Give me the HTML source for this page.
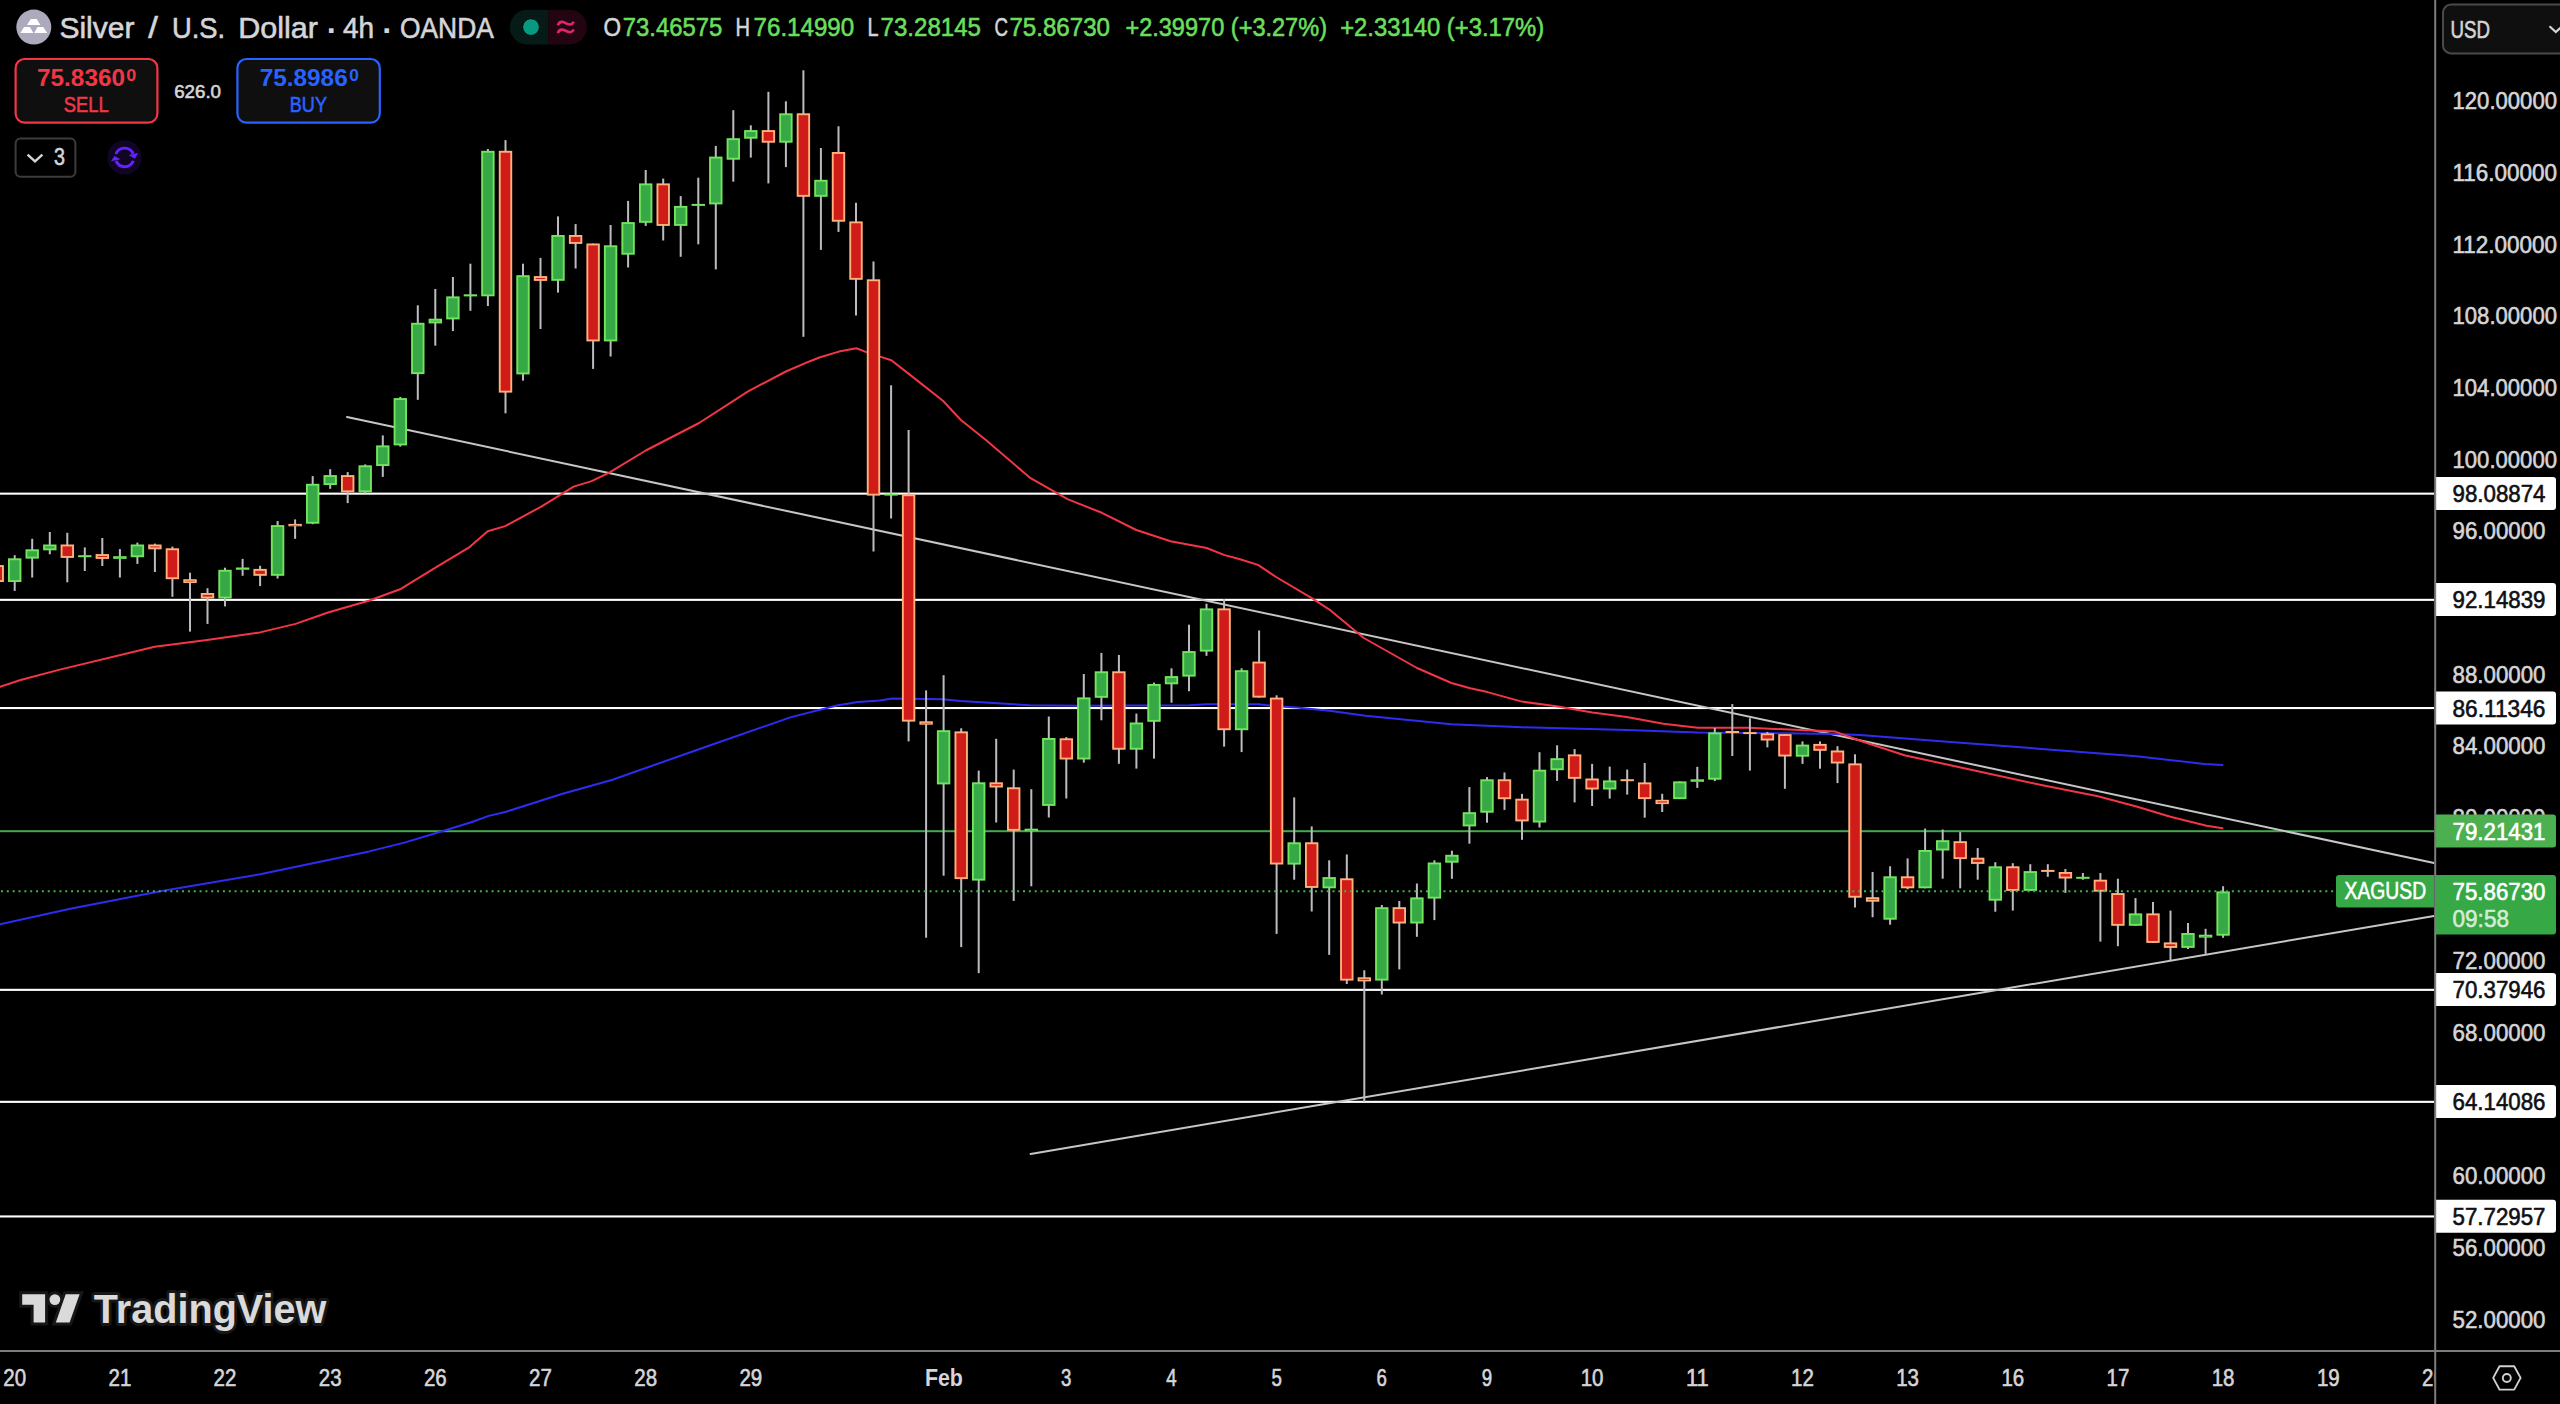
<!DOCTYPE html>
<html lang="en"><head><meta charset="utf-8"><title>Silver / U.S. Dollar chart</title>
<style>html,body{margin:0;padding:0;background:#000;}body{width:2560px;height:1404px;overflow:hidden;}svg{display:block;}text{font-family:"Liberation Sans", sans-serif;}</style></head><body>
<svg width="2560" height="1404" viewBox="0 0 2560 1404">
<rect width="2560" height="1404" fill="#000"/>
<defs><clipPath id="cc"><rect x="0" y="0" width="2434.2" height="1350"/></clipPath></defs>
<g clip-path="url(#cc)">
<rect x="0" y="492.6" width="2434.2" height="2.1" fill="#ffffff"/>
<rect x="0" y="598.8" width="2434.2" height="2.1" fill="#ffffff"/>
<rect x="0" y="707.0" width="2434.2" height="2.1" fill="#ffffff"/>
<rect x="0" y="988.8" width="2434.2" height="2.1" fill="#ffffff"/>
<rect x="0" y="1100.8" width="2434.2" height="2.1" fill="#ffffff"/>
<rect x="0" y="1215.4" width="2434.2" height="2.1" fill="#ffffff"/>
<rect x="0" y="830.2" width="2434.2" height="2" fill="#43a94c"/>
<line x1="347" y1="417" x2="2434" y2="863" stroke="#c6c6c6" stroke-width="2" stroke-linecap="round"/>
<line x1="1030.6" y1="1153.9" x2="2434" y2="916" stroke="#c6c6c6" stroke-width="2" stroke-linecap="round"/>
<polyline points="0.0,924.2 70.3,908.7 161.7,891.1 260.2,874.3 369.2,851.4 404.4,842.6 443.0,831.0 471.2,822.2 488.7,815.9 506.3,811.7 562.6,793.7 611.8,780.0 703.2,747.7 791.1,717.1 836.8,705.5 857.9,702.0 880.0,700.5 892.0,698.4 941.9,699.3 960.8,701.0 1029.5,705.3 1077.7,705.8 1189.4,705.3 1206.6,704.3 1258.1,704.3 1275.3,706.2 1296.7,707.6 1329.4,710.7 1365.5,715.8 1451.4,724.3 1521.9,727.3 1626.7,729.9 1697.8,732.4 1783.8,733.3 1835.3,734.1 1860.0,735.1 1950.6,741.9 2048.0,749.4 2136.4,756.2 2204.4,763.9 2222.5,765.0" fill="none" stroke="#2f2cf2" stroke-width="2" stroke-linejoin="round" stroke-linecap="round"/>
<polyline points="0.0,686.8 20.6,680.0 59.8,669.6 154.7,646.8 207.0,640.0 260.0,632.4 295.5,623.9 328.0,612.5 369.5,600.5 400.0,589.3 440.0,564.8 469.6,547.1 487.7,531.3 505.2,526.1 540.9,506.8 573.6,486.6 591.6,481.1 608.8,472.8 645.8,450.5 699.1,423.0 748.1,391.3 785.9,371.5 810.0,361.2 820.0,357.3 838.9,351.6 856.4,348.3 866.4,352.1 879.3,356.4 891.3,360.2 908.5,373.6 942.9,400.8 960.9,420.0 985.9,440.0 1029.7,477.6 1067.5,499.1 1101.9,512.8 1136.3,530.0 1170.6,541.2 1206.7,548.0 1223.9,554.9 1240.0,559.3 1258.0,564.9 1276.1,577.0 1312.2,598.4 1329.4,609.6 1363.8,638.0 1417.0,668.0 1451.4,683.0 1470.3,688.2 1487.5,692.1 1521.9,701.6 1558.0,706.4 1592.4,712.4 1626.7,717.0 1663.4,723.8 1697.8,727.8 1749.4,727.8 1835.3,731.6 1855.9,739.3 1860.0,740.8 1905.3,755.5 1973.3,770.2 2041.2,785.0 2097.9,796.3 2136.4,806.5 2170.4,816.7 2206.6,825.7 2222.5,828.2" fill="none" stroke="#f23645" stroke-width="2" stroke-linejoin="round" stroke-linecap="round"/>
<g fill="#bcbbc1"><rect x="-3.8" y="560.0" width="2" height="30.0"/><rect x="13.7" y="555.2" width="2" height="35.7"/><rect x="31.2" y="538.8" width="2" height="38.7"/><rect x="48.8" y="532.0" width="2" height="22.3"/><rect x="66.3" y="532.8" width="2" height="49.5"/><rect x="83.8" y="547.4" width="2" height="23.6"/><rect x="101.3" y="538.0" width="2" height="28.0"/><rect x="118.9" y="549.1" width="2" height="28.4"/><rect x="136.4" y="542.6" width="2" height="21.3"/><rect x="153.9" y="543.6" width="2" height="28.4"/><rect x="171.4" y="546.6" width="2" height="50.2"/><rect x="189.0" y="572.7" width="2" height="58.9"/><rect x="206.5" y="588.2" width="2" height="35.7"/><rect x="224.0" y="567.7" width="2" height="38.7"/><rect x="241.6" y="558.9" width="2" height="16.9"/><rect x="259.1" y="565.8" width="2" height="20.3"/><rect x="276.6" y="521.1" width="2" height="57.4"/><rect x="294.1" y="519.4" width="2" height="19.4"/><rect x="311.7" y="476.1" width="2" height="48.1"/><rect x="329.2" y="469.2" width="2" height="19.6"/><rect x="346.7" y="472.1" width="2" height="31.0"/><rect x="364.2" y="464.4" width="2" height="29.2"/><rect x="381.8" y="435.4" width="2" height="41.5"/><rect x="399.3" y="396.9" width="2" height="49.7"/><rect x="416.8" y="305.3" width="2" height="94.5"/><rect x="434.3" y="289.0" width="2" height="56.7"/><rect x="451.9" y="277.0" width="2" height="54.1"/><rect x="469.4" y="263.7" width="2" height="47.1"/><rect x="486.9" y="149.0" width="2" height="157.0"/><rect x="504.5" y="140.1" width="2" height="273.2"/><rect x="522.0" y="263.7" width="2" height="116.9"/><rect x="539.5" y="257.9" width="2" height="71.1"/><rect x="557.0" y="216.4" width="2" height="76.2"/><rect x="574.6" y="224.1" width="2" height="44.4"/><rect x="592.1" y="243.5" width="2" height="125.4"/><rect x="609.6" y="225.0" width="2" height="131.5"/><rect x="627.1" y="200.9" width="2" height="66.6"/><rect x="644.7" y="170.0" width="2" height="55.9"/><rect x="662.2" y="178.6" width="2" height="61.9"/><rect x="679.7" y="196.1" width="2" height="60.7"/><rect x="697.3" y="177.7" width="2" height="66.6"/><rect x="714.8" y="145.9" width="2" height="123.5"/><rect x="732.3" y="110.2" width="2" height="71.5"/><rect x="749.8" y="125.3" width="2" height="32.3"/><rect x="767.4" y="91.8" width="2" height="91.6"/><rect x="784.9" y="101.3" width="2" height="65.8"/><rect x="802.4" y="70.3" width="2" height="266.5"/><rect x="819.9" y="148.0" width="2" height="101.9"/><rect x="837.5" y="126.3" width="2" height="105.6"/><rect x="855.0" y="202.8" width="2" height="112.7"/><rect x="872.5" y="261.5" width="2" height="290.0"/><rect x="890.1" y="385.3" width="2" height="133.2"/><rect x="907.6" y="430.0" width="2" height="311.4"/><rect x="925.1" y="690.4" width="2" height="247.3"/><rect x="942.6" y="675.2" width="2" height="200.5"/><rect x="960.2" y="728.3" width="2" height="218.8"/><rect x="977.7" y="770.6" width="2" height="202.5"/><rect x="995.2" y="738.8" width="2" height="83.7"/><rect x="1012.7" y="769.6" width="2" height="131.3"/><rect x="1030.3" y="789.2" width="2" height="97.1"/><rect x="1047.8" y="716.5" width="2" height="101.0"/><rect x="1065.3" y="737.1" width="2" height="61.4"/><rect x="1082.8" y="674.0" width="2" height="88.7"/><rect x="1100.4" y="652.9" width="2" height="67.4"/><rect x="1117.9" y="655.0" width="2" height="108.8"/><rect x="1135.4" y="713.6" width="2" height="55.0"/><rect x="1153.0" y="682.6" width="2" height="76.0"/><rect x="1170.5" y="668.3" width="2" height="34.4"/><rect x="1188.0" y="624.7" width="2" height="66.5"/><rect x="1205.5" y="603.7" width="2" height="52.1"/><rect x="1223.1" y="599.1" width="2" height="147.5"/><rect x="1240.6" y="668.3" width="2" height="83.8"/><rect x="1258.1" y="630.5" width="2" height="67.1"/><rect x="1275.6" y="695.3" width="2" height="238.6"/><rect x="1293.2" y="797.4" width="2" height="82.3"/><rect x="1310.7" y="826.4" width="2" height="85.1"/><rect x="1328.2" y="860.3" width="2" height="94.5"/><rect x="1345.8" y="854.4" width="2" height="129.6"/><rect x="1363.3" y="970.3" width="2" height="131.5"/><rect x="1380.8" y="905.0" width="2" height="89.5"/><rect x="1398.3" y="901.0" width="2" height="68.4"/><rect x="1415.9" y="883.5" width="2" height="53.3"/><rect x="1433.4" y="860.3" width="2" height="59.8"/><rect x="1450.9" y="850.7" width="2" height="28.1"/><rect x="1468.4" y="787.1" width="2" height="56.6"/><rect x="1486.0" y="777.1" width="2" height="45.6"/><rect x="1503.5" y="772.5" width="2" height="37.4"/><rect x="1521.0" y="793.9" width="2" height="45.9"/><rect x="1538.5" y="752.2" width="2" height="75.3"/><rect x="1556.1" y="745.3" width="2" height="35.6"/><rect x="1573.6" y="749.1" width="2" height="53.3"/><rect x="1591.1" y="763.9" width="2" height="42.1"/><rect x="1608.7" y="766.6" width="2" height="32.0"/><rect x="1626.2" y="769.5" width="2" height="25.1"/><rect x="1643.7" y="763.0" width="2" height="54.7"/><rect x="1661.2" y="793.8" width="2" height="18.2"/><rect x="1678.8" y="781.4" width="2" height="17.7"/><rect x="1696.3" y="766.8" width="2" height="21.1"/><rect x="1713.8" y="728.1" width="2" height="53.0"/><rect x="1731.3" y="704.1" width="2" height="51.9"/><rect x="1748.9" y="718.2" width="2" height="52.4"/><rect x="1766.4" y="731.9" width="2" height="15.5"/><rect x="1783.9" y="734.1" width="2" height="54.7"/><rect x="1801.5" y="741.4" width="2" height="22.5"/><rect x="1819.0" y="741.4" width="2" height="27.3"/><rect x="1836.5" y="746.2" width="2" height="36.9"/><rect x="1854.0" y="754.3" width="2" height="153.2"/><rect x="1871.6" y="872.0" width="2" height="45.2"/><rect x="1889.1" y="866.3" width="2" height="58.4"/><rect x="1906.6" y="858.4" width="2" height="30.9"/><rect x="1924.1" y="828.6" width="2" height="59.7"/><rect x="1941.7" y="829.5" width="2" height="49.2"/><rect x="1959.2" y="832.1" width="2" height="56.2"/><rect x="1976.7" y="848.1" width="2" height="31.6"/><rect x="1994.3" y="862.2" width="2" height="49.5"/><rect x="2011.8" y="863.2" width="2" height="47.4"/><rect x="2029.3" y="864.2" width="2" height="26.7"/><rect x="2046.8" y="864.2" width="2" height="12.6"/><rect x="2064.4" y="869.0" width="2" height="23.9"/><rect x="2081.9" y="873.0" width="2" height="6.7"/><rect x="2099.4" y="873.0" width="2" height="68.6"/><rect x="2116.9" y="878.7" width="2" height="67.5"/><rect x="2134.5" y="898.1" width="2" height="27.7"/><rect x="2152.0" y="902.0" width="2" height="40.9"/><rect x="2169.5" y="910.6" width="2" height="49.9"/><rect x="2187.0" y="923.0" width="2" height="26.0"/><rect x="2204.6" y="928.8" width="2" height="25.1"/><rect x="2222.1" y="886.2" width="2" height="51.6"/></g>
<g><rect x="-9.5" y="565.1" width="13.4" height="16.9" fill="#ffb07c"/><rect x="-7.6" y="567.0" width="9.6" height="13.1" fill="#d01c18"/><rect x="8.0" y="558.3" width="13.4" height="23.7" fill="#72e45e"/><rect x="9.9" y="560.2" width="9.6" height="19.9" fill="#36a846"/><rect x="25.5" y="549.3" width="13.4" height="9.3" fill="#72e45e"/><rect x="27.4" y="551.2" width="9.6" height="5.5" fill="#36a846"/><rect x="43.1" y="544.5" width="13.4" height="5.8" fill="#72e45e"/><rect x="45.0" y="546.4" width="9.6" height="2.0" fill="#36a846"/><rect x="60.6" y="544.5" width="13.4" height="13.4" fill="#ffb07c"/><rect x="62.5" y="546.4" width="9.6" height="9.6" fill="#d01c18"/><rect x="78.1" y="555.2" width="13.4" height="2.0" fill="#72e45e"/><rect x="95.6" y="554.1" width="13.4" height="4.8" fill="#ffb07c"/><rect x="97.5" y="556.0" width="9.6" height="1.0" fill="#d01c18"/><rect x="113.2" y="556.2" width="13.4" height="2.7" fill="#72e45e"/><rect x="115.1" y="557.8" width="9.6" height="0.5" fill="#36a846"/><rect x="130.7" y="544.5" width="13.4" height="12.7" fill="#72e45e"/><rect x="132.6" y="546.4" width="9.6" height="8.9" fill="#36a846"/><rect x="148.2" y="544.5" width="13.4" height="4.8" fill="#ffb07c"/><rect x="150.1" y="546.4" width="9.6" height="1.0" fill="#d01c18"/><rect x="165.7" y="548.3" width="13.4" height="30.9" fill="#ffb07c"/><rect x="167.6" y="550.2" width="9.6" height="27.1" fill="#d01c18"/><rect x="183.3" y="579.2" width="13.4" height="3.8" fill="#ffb07c"/><rect x="185.2" y="580.8" width="9.6" height="0.6" fill="#d01c18"/><rect x="200.8" y="593.0" width="13.4" height="5.5" fill="#ffb07c"/><rect x="202.7" y="594.9" width="9.6" height="1.7" fill="#d01c18"/><rect x="218.3" y="569.8" width="13.4" height="28.7" fill="#72e45e"/><rect x="220.2" y="571.7" width="9.6" height="24.9" fill="#36a846"/><rect x="235.9" y="567.5" width="13.4" height="2.3" fill="#72e45e"/><rect x="237.8" y="569.1" width="9.6" height="0.5" fill="#36a846"/><rect x="253.4" y="568.9" width="13.4" height="6.9" fill="#ffb07c"/><rect x="255.3" y="570.8" width="9.6" height="3.1" fill="#d01c18"/><rect x="270.9" y="525.1" width="13.4" height="50.7" fill="#72e45e"/><rect x="272.8" y="527.0" width="9.6" height="46.9" fill="#36a846"/><rect x="288.4" y="523.9" width="13.4" height="2.4" fill="#ffb07c"/><rect x="290.3" y="525.5" width="9.6" height="0.5" fill="#d01c18"/><rect x="306.0" y="483.8" width="13.4" height="39.9" fill="#72e45e"/><rect x="307.9" y="485.7" width="9.6" height="36.1" fill="#36a846"/><rect x="323.5" y="475.1" width="13.4" height="9.9" fill="#72e45e"/><rect x="325.4" y="477.0" width="9.6" height="6.1" fill="#36a846"/><rect x="341.0" y="475.1" width="13.4" height="17.2" fill="#ffb07c"/><rect x="342.9" y="477.0" width="9.6" height="13.4" fill="#d01c18"/><rect x="358.5" y="465.3" width="13.4" height="27.0" fill="#72e45e"/><rect x="360.4" y="467.2" width="9.6" height="23.2" fill="#36a846"/><rect x="376.1" y="445.4" width="13.4" height="20.6" fill="#72e45e"/><rect x="378.0" y="447.3" width="9.6" height="16.8" fill="#36a846"/><rect x="393.6" y="398.1" width="13.4" height="47.3" fill="#72e45e"/><rect x="395.5" y="400.0" width="9.6" height="43.5" fill="#36a846"/><rect x="411.1" y="322.8" width="13.4" height="51.3" fill="#72e45e"/><rect x="413.0" y="324.7" width="9.6" height="47.5" fill="#36a846"/><rect x="428.6" y="318.7" width="13.4" height="4.7" fill="#72e45e"/><rect x="430.5" y="320.6" width="9.6" height="0.9" fill="#36a846"/><rect x="446.2" y="296.4" width="13.4" height="23.0" fill="#72e45e"/><rect x="448.1" y="298.3" width="9.6" height="19.2" fill="#36a846"/><rect x="463.7" y="294.3" width="13.4" height="2.1" fill="#72e45e"/><rect x="481.2" y="150.8" width="13.4" height="145.5" fill="#72e45e"/><rect x="483.1" y="152.7" width="9.6" height="141.7" fill="#36a846"/><rect x="498.8" y="150.8" width="13.4" height="241.8" fill="#ffb07c"/><rect x="500.7" y="152.7" width="9.6" height="238.0" fill="#d01c18"/><rect x="516.3" y="275.2" width="13.4" height="99.2" fill="#72e45e"/><rect x="518.2" y="277.1" width="9.6" height="95.4" fill="#36a846"/><rect x="533.8" y="276.1" width="13.4" height="4.8" fill="#ffb07c"/><rect x="535.7" y="278.0" width="9.6" height="1.0" fill="#d01c18"/><rect x="551.3" y="235.0" width="13.4" height="45.8" fill="#72e45e"/><rect x="553.2" y="236.9" width="9.6" height="42.0" fill="#36a846"/><rect x="568.9" y="235.0" width="13.4" height="8.9" fill="#ffb07c"/><rect x="570.8" y="236.9" width="9.6" height="5.1" fill="#d01c18"/><rect x="586.4" y="243.5" width="13.4" height="97.9" fill="#ffb07c"/><rect x="588.3" y="245.4" width="9.6" height="94.1" fill="#d01c18"/><rect x="603.9" y="245.3" width="13.4" height="96.1" fill="#72e45e"/><rect x="605.8" y="247.2" width="9.6" height="92.3" fill="#36a846"/><rect x="621.4" y="222.1" width="13.4" height="32.6" fill="#72e45e"/><rect x="623.3" y="224.0" width="9.6" height="28.8" fill="#36a846"/><rect x="639.0" y="183.4" width="13.4" height="39.4" fill="#72e45e"/><rect x="640.9" y="185.3" width="9.6" height="35.6" fill="#36a846"/><rect x="656.5" y="183.4" width="13.4" height="42.5" fill="#ffb07c"/><rect x="658.4" y="185.3" width="9.6" height="38.7" fill="#d01c18"/><rect x="674.0" y="205.9" width="13.4" height="20.0" fill="#72e45e"/><rect x="675.9" y="207.8" width="9.6" height="16.2" fill="#36a846"/><rect x="691.6" y="203.9" width="13.4" height="2.0" fill="#72e45e"/><rect x="709.1" y="156.6" width="13.4" height="47.8" fill="#72e45e"/><rect x="711.0" y="158.5" width="9.6" height="44.0" fill="#36a846"/><rect x="726.6" y="138.2" width="13.4" height="21.5" fill="#72e45e"/><rect x="728.5" y="140.1" width="9.6" height="17.7" fill="#36a846"/><rect x="744.1" y="130.1" width="13.4" height="8.6" fill="#72e45e"/><rect x="746.0" y="132.0" width="9.6" height="4.8" fill="#36a846"/><rect x="761.7" y="130.1" width="13.4" height="12.6" fill="#ffb07c"/><rect x="763.6" y="132.0" width="9.6" height="8.8" fill="#d01c18"/><rect x="779.2" y="113.3" width="13.4" height="29.4" fill="#72e45e"/><rect x="781.1" y="115.2" width="9.6" height="25.6" fill="#36a846"/><rect x="796.7" y="113.3" width="13.4" height="83.5" fill="#ffb07c"/><rect x="798.6" y="115.2" width="9.6" height="79.7" fill="#d01c18"/><rect x="814.2" y="179.8" width="13.4" height="17.0" fill="#72e45e"/><rect x="816.1" y="181.7" width="9.6" height="13.2" fill="#36a846"/><rect x="831.8" y="152.0" width="13.4" height="69.7" fill="#ffb07c"/><rect x="833.7" y="153.9" width="9.6" height="65.9" fill="#d01c18"/><rect x="849.3" y="221.4" width="13.4" height="58.4" fill="#ffb07c"/><rect x="851.2" y="223.3" width="9.6" height="54.6" fill="#d01c18"/><rect x="866.8" y="279.3" width="13.4" height="216.3" fill="#ffb07c"/><rect x="868.7" y="281.2" width="9.6" height="212.5" fill="#d01c18"/><rect x="884.4" y="493.6" width="13.4" height="2.0" fill="#72e45e"/><rect x="901.9" y="494.3" width="13.4" height="227.3" fill="#ffb07c"/><rect x="903.8" y="496.2" width="9.6" height="223.5" fill="#d01c18"/><rect x="919.4" y="721.3" width="13.4" height="3.4" fill="#ffb07c"/><rect x="921.3" y="722.9" width="9.6" height="0.5" fill="#d01c18"/><rect x="936.9" y="730.2" width="13.4" height="54.2" fill="#72e45e"/><rect x="938.8" y="732.1" width="9.6" height="50.4" fill="#36a846"/><rect x="954.5" y="731.4" width="13.4" height="147.7" fill="#ffb07c"/><rect x="956.4" y="733.3" width="9.6" height="143.9" fill="#d01c18"/><rect x="972.0" y="782.3" width="13.4" height="98.3" fill="#72e45e"/><rect x="973.9" y="784.2" width="9.6" height="94.5" fill="#36a846"/><rect x="989.5" y="782.3" width="13.4" height="5.2" fill="#ffb07c"/><rect x="991.4" y="784.2" width="9.6" height="1.4" fill="#d01c18"/><rect x="1007.0" y="787.3" width="13.4" height="43.5" fill="#ffb07c"/><rect x="1008.9" y="789.2" width="9.6" height="39.7" fill="#d01c18"/><rect x="1024.6" y="828.7" width="13.4" height="2.4" fill="#72e45e"/><rect x="1026.5" y="830.3" width="9.6" height="0.5" fill="#36a846"/><rect x="1042.1" y="738.0" width="13.4" height="67.9" fill="#72e45e"/><rect x="1044.0" y="739.9" width="9.6" height="64.1" fill="#36a846"/><rect x="1059.6" y="738.3" width="13.4" height="21.2" fill="#ffb07c"/><rect x="1061.5" y="740.2" width="9.6" height="17.4" fill="#d01c18"/><rect x="1077.1" y="697.4" width="13.4" height="62.1" fill="#72e45e"/><rect x="1079.0" y="699.3" width="9.6" height="58.3" fill="#36a846"/><rect x="1094.7" y="671.3" width="13.4" height="26.5" fill="#72e45e"/><rect x="1096.6" y="673.2" width="9.6" height="22.7" fill="#36a846"/><rect x="1112.2" y="671.3" width="13.4" height="78.4" fill="#ffb07c"/><rect x="1114.1" y="673.2" width="9.6" height="74.6" fill="#d01c18"/><rect x="1129.7" y="722.5" width="13.4" height="27.2" fill="#72e45e"/><rect x="1131.6" y="724.4" width="9.6" height="23.4" fill="#36a846"/><rect x="1147.3" y="684.0" width="13.4" height="37.8" fill="#72e45e"/><rect x="1149.2" y="685.9" width="9.6" height="34.0" fill="#36a846"/><rect x="1164.8" y="676.1" width="13.4" height="8.2" fill="#72e45e"/><rect x="1166.7" y="678.0" width="9.6" height="4.4" fill="#36a846"/><rect x="1182.3" y="651.1" width="13.4" height="25.5" fill="#72e45e"/><rect x="1184.2" y="653.0" width="9.6" height="21.7" fill="#36a846"/><rect x="1199.8" y="608.4" width="13.4" height="43.2" fill="#72e45e"/><rect x="1201.7" y="610.3" width="9.6" height="39.4" fill="#36a846"/><rect x="1217.4" y="608.4" width="13.4" height="121.8" fill="#ffb07c"/><rect x="1219.3" y="610.3" width="9.6" height="118.0" fill="#d01c18"/><rect x="1234.9" y="670.2" width="13.4" height="60.0" fill="#72e45e"/><rect x="1236.8" y="672.1" width="9.6" height="56.2" fill="#36a846"/><rect x="1252.4" y="661.6" width="13.4" height="36.0" fill="#ffb07c"/><rect x="1254.3" y="663.5" width="9.6" height="32.2" fill="#d01c18"/><rect x="1269.9" y="697.6" width="13.4" height="166.9" fill="#ffb07c"/><rect x="1271.8" y="699.5" width="9.6" height="163.1" fill="#d01c18"/><rect x="1287.5" y="842.3" width="13.4" height="22.3" fill="#72e45e"/><rect x="1289.4" y="844.2" width="9.6" height="18.5" fill="#36a846"/><rect x="1305.0" y="842.3" width="13.4" height="45.6" fill="#ffb07c"/><rect x="1306.9" y="844.2" width="9.6" height="41.8" fill="#d01c18"/><rect x="1322.5" y="877.1" width="13.4" height="11.2" fill="#72e45e"/><rect x="1324.4" y="879.0" width="9.6" height="7.4" fill="#36a846"/><rect x="1340.1" y="878.3" width="13.4" height="102.3" fill="#ffb07c"/><rect x="1342.0" y="880.2" width="9.6" height="98.5" fill="#d01c18"/><rect x="1357.6" y="977.3" width="13.4" height="4.1" fill="#ffb07c"/><rect x="1359.5" y="978.9" width="9.6" height="0.9" fill="#d01c18"/><rect x="1375.1" y="907.2" width="13.4" height="73.4" fill="#72e45e"/><rect x="1377.0" y="909.1" width="9.6" height="69.6" fill="#36a846"/><rect x="1392.6" y="907.2" width="13.4" height="16.3" fill="#ffb07c"/><rect x="1394.5" y="909.1" width="9.6" height="12.5" fill="#d01c18"/><rect x="1410.2" y="897.4" width="13.4" height="26.1" fill="#72e45e"/><rect x="1412.1" y="899.3" width="9.6" height="22.3" fill="#36a846"/><rect x="1427.7" y="862.5" width="13.4" height="36.1" fill="#72e45e"/><rect x="1429.6" y="864.4" width="9.6" height="32.3" fill="#36a846"/><rect x="1445.2" y="854.8" width="13.4" height="7.9" fill="#72e45e"/><rect x="1447.1" y="856.7" width="9.6" height="4.1" fill="#36a846"/><rect x="1462.7" y="812.2" width="13.4" height="14.2" fill="#72e45e"/><rect x="1464.6" y="814.1" width="9.6" height="10.4" fill="#36a846"/><rect x="1480.3" y="779.3" width="13.4" height="33.4" fill="#72e45e"/><rect x="1482.2" y="781.2" width="9.6" height="29.6" fill="#36a846"/><rect x="1497.8" y="779.3" width="13.4" height="19.9" fill="#ffb07c"/><rect x="1499.7" y="781.2" width="9.6" height="16.1" fill="#d01c18"/><rect x="1515.3" y="798.7" width="13.4" height="22.7" fill="#ffb07c"/><rect x="1517.2" y="800.6" width="9.6" height="18.9" fill="#d01c18"/><rect x="1532.8" y="769.7" width="13.4" height="52.8" fill="#72e45e"/><rect x="1534.7" y="771.6" width="9.6" height="49.0" fill="#36a846"/><rect x="1550.4" y="758.2" width="13.4" height="12.0" fill="#72e45e"/><rect x="1552.3" y="760.1" width="9.6" height="8.2" fill="#36a846"/><rect x="1567.9" y="754.4" width="13.4" height="24.4" fill="#ffb07c"/><rect x="1569.8" y="756.3" width="9.6" height="20.6" fill="#d01c18"/><rect x="1585.4" y="778.5" width="13.4" height="11.0" fill="#ffb07c"/><rect x="1587.3" y="780.4" width="9.6" height="7.2" fill="#d01c18"/><rect x="1603.0" y="780.4" width="13.4" height="9.1" fill="#72e45e"/><rect x="1604.9" y="782.3" width="9.6" height="5.3" fill="#36a846"/><rect x="1620.5" y="779.2" width="13.4" height="2.0" fill="#ffb07c"/><rect x="1638.0" y="782.4" width="13.4" height="16.7" fill="#ffb07c"/><rect x="1639.9" y="784.3" width="9.6" height="12.9" fill="#d01c18"/><rect x="1655.5" y="799.8" width="13.4" height="4.3" fill="#ffb07c"/><rect x="1657.4" y="801.4" width="9.6" height="1.1" fill="#d01c18"/><rect x="1673.1" y="781.4" width="13.4" height="17.7" fill="#72e45e"/><rect x="1675.0" y="783.3" width="9.6" height="13.9" fill="#36a846"/><rect x="1690.6" y="779.3" width="13.4" height="2.5" fill="#72e45e"/><rect x="1692.5" y="780.9" width="9.6" height="0.5" fill="#36a846"/><rect x="1708.1" y="732.4" width="13.4" height="47.3" fill="#72e45e"/><rect x="1710.0" y="734.3" width="9.6" height="43.5" fill="#36a846"/><rect x="1725.6" y="731.0" width="13.4" height="2.0" fill="#ffb07c"/><rect x="1743.2" y="732.1" width="13.4" height="2.0" fill="#ffb07c"/><rect x="1760.7" y="733.3" width="13.4" height="7.2" fill="#ffb07c"/><rect x="1762.6" y="735.2" width="9.6" height="3.4" fill="#d01c18"/><rect x="1778.2" y="734.1" width="13.4" height="22.4" fill="#ffb07c"/><rect x="1780.1" y="736.0" width="9.6" height="18.6" fill="#d01c18"/><rect x="1795.8" y="744.6" width="13.4" height="12.1" fill="#72e45e"/><rect x="1797.7" y="746.5" width="9.6" height="8.3" fill="#36a846"/><rect x="1813.3" y="743.9" width="13.4" height="6.9" fill="#ffb07c"/><rect x="1815.2" y="745.8" width="9.6" height="3.1" fill="#d01c18"/><rect x="1830.8" y="750.5" width="13.4" height="13.0" fill="#ffb07c"/><rect x="1832.7" y="752.4" width="9.6" height="9.2" fill="#d01c18"/><rect x="1848.3" y="763.4" width="13.4" height="134.3" fill="#ffb07c"/><rect x="1850.2" y="765.3" width="9.6" height="130.5" fill="#d01c18"/><rect x="1865.9" y="897.2" width="13.4" height="4.5" fill="#ffb07c"/><rect x="1867.8" y="899.1" width="9.6" height="0.7" fill="#d01c18"/><rect x="1883.4" y="876.3" width="13.4" height="43.4" fill="#72e45e"/><rect x="1885.3" y="878.2" width="9.6" height="39.6" fill="#36a846"/><rect x="1900.9" y="876.3" width="13.4" height="12.0" fill="#ffb07c"/><rect x="1902.8" y="878.2" width="9.6" height="8.2" fill="#d01c18"/><rect x="1918.4" y="850.0" width="13.4" height="38.3" fill="#72e45e"/><rect x="1920.3" y="851.9" width="9.6" height="34.5" fill="#36a846"/><rect x="1936.0" y="840.2" width="13.4" height="10.3" fill="#72e45e"/><rect x="1937.9" y="842.1" width="9.6" height="6.5" fill="#36a846"/><rect x="1953.5" y="841.2" width="13.4" height="17.9" fill="#ffb07c"/><rect x="1955.4" y="843.1" width="9.6" height="14.1" fill="#d01c18"/><rect x="1971.0" y="857.7" width="13.4" height="6.2" fill="#ffb07c"/><rect x="1972.9" y="859.6" width="9.6" height="2.4" fill="#d01c18"/><rect x="1988.6" y="866.3" width="13.4" height="34.4" fill="#72e45e"/><rect x="1990.5" y="868.2" width="9.6" height="30.6" fill="#36a846"/><rect x="2006.1" y="866.3" width="13.4" height="24.6" fill="#ffb07c"/><rect x="2008.0" y="868.2" width="9.6" height="20.8" fill="#d01c18"/><rect x="2023.6" y="871.1" width="13.4" height="19.8" fill="#72e45e"/><rect x="2025.5" y="873.0" width="9.6" height="16.0" fill="#36a846"/><rect x="2041.1" y="869.9" width="13.4" height="2.0" fill="#ffb07c"/><rect x="2058.7" y="872.0" width="13.4" height="6.5" fill="#ffb07c"/><rect x="2060.6" y="873.9" width="9.6" height="2.7" fill="#d01c18"/><rect x="2076.2" y="876.8" width="13.4" height="2.0" fill="#72e45e"/><rect x="2093.7" y="879.7" width="13.4" height="12.0" fill="#ffb07c"/><rect x="2095.6" y="881.6" width="9.6" height="8.2" fill="#d01c18"/><rect x="2111.2" y="893.1" width="13.4" height="32.7" fill="#ffb07c"/><rect x="2113.1" y="895.0" width="9.6" height="28.9" fill="#d01c18"/><rect x="2128.8" y="913.4" width="13.4" height="12.4" fill="#72e45e"/><rect x="2130.7" y="915.3" width="9.6" height="8.6" fill="#36a846"/><rect x="2146.3" y="913.4" width="13.4" height="29.5" fill="#ffb07c"/><rect x="2148.2" y="915.3" width="9.6" height="25.7" fill="#d01c18"/><rect x="2163.8" y="942.4" width="13.4" height="5.5" fill="#ffb07c"/><rect x="2165.7" y="944.3" width="9.6" height="1.7" fill="#d01c18"/><rect x="2181.3" y="933.0" width="13.4" height="14.9" fill="#72e45e"/><rect x="2183.2" y="934.9" width="9.6" height="11.1" fill="#36a846"/><rect x="2198.9" y="934.7" width="13.4" height="2.9" fill="#72e45e"/><rect x="2200.8" y="936.3" width="9.6" height="0.5" fill="#36a846"/><rect x="2216.4" y="891.4" width="13.4" height="44.3" fill="#72e45e"/><rect x="2218.3" y="893.3" width="9.6" height="40.5" fill="#36a846"/></g>
<line x1="1" y1="891.3" x2="2336" y2="891.3" stroke="#3cb44b" stroke-width="2" stroke-dasharray="2 3.84"/>
</g>
<text x="2452.5" y="109.2" font-size="23.4" fill="#d5d5d8" stroke="#d5d5d8" stroke-width="0.6" textLength="104.5" lengthAdjust="spacingAndGlyphs">120.00000</text>
<text x="2452.5" y="180.8" font-size="23.4" fill="#d5d5d8" stroke="#d5d5d8" stroke-width="0.6" textLength="104.5" lengthAdjust="spacingAndGlyphs">116.00000</text>
<text x="2452.5" y="252.5" font-size="23.4" fill="#d5d5d8" stroke="#d5d5d8" stroke-width="0.6" textLength="104.5" lengthAdjust="spacingAndGlyphs">112.00000</text>
<text x="2452.5" y="324.2" font-size="23.4" fill="#d5d5d8" stroke="#d5d5d8" stroke-width="0.6" textLength="104.5" lengthAdjust="spacingAndGlyphs">108.00000</text>
<text x="2452.5" y="395.8" font-size="23.4" fill="#d5d5d8" stroke="#d5d5d8" stroke-width="0.6" textLength="104.5" lengthAdjust="spacingAndGlyphs">104.00000</text>
<text x="2452.5" y="467.5" font-size="23.4" fill="#d5d5d8" stroke="#d5d5d8" stroke-width="0.6" textLength="104.5" lengthAdjust="spacingAndGlyphs">100.00000</text>
<text x="2452.5" y="539.2" font-size="23.4" fill="#d5d5d8" stroke="#d5d5d8" stroke-width="0.6" textLength="93.0" lengthAdjust="spacingAndGlyphs">96.00000</text>
<text x="2452.5" y="682.5" font-size="23.4" fill="#d5d5d8" stroke="#d5d5d8" stroke-width="0.6" textLength="93.0" lengthAdjust="spacingAndGlyphs">88.00000</text>
<text x="2452.5" y="754.2" font-size="23.4" fill="#d5d5d8" stroke="#d5d5d8" stroke-width="0.6" textLength="93.0" lengthAdjust="spacingAndGlyphs">84.00000</text>
<text x="2452.5" y="825.8" font-size="23.4" fill="#d5d5d8" stroke="#d5d5d8" stroke-width="0.6" textLength="93.0" lengthAdjust="spacingAndGlyphs">80.00000</text>
<text x="2452.5" y="969.2" font-size="23.4" fill="#d5d5d8" stroke="#d5d5d8" stroke-width="0.6" textLength="93.0" lengthAdjust="spacingAndGlyphs">72.00000</text>
<text x="2452.5" y="1040.8" font-size="23.4" fill="#d5d5d8" stroke="#d5d5d8" stroke-width="0.6" textLength="93.0" lengthAdjust="spacingAndGlyphs">68.00000</text>
<text x="2452.5" y="1184.2" font-size="23.4" fill="#d5d5d8" stroke="#d5d5d8" stroke-width="0.6" textLength="93.0" lengthAdjust="spacingAndGlyphs">60.00000</text>
<text x="2452.5" y="1255.8" font-size="23.4" fill="#d5d5d8" stroke="#d5d5d8" stroke-width="0.6" textLength="93.0" lengthAdjust="spacingAndGlyphs">56.00000</text>
<text x="2452.5" y="1327.5" font-size="23.4" fill="#d5d5d8" stroke="#d5d5d8" stroke-width="0.6" textLength="93.0" lengthAdjust="spacingAndGlyphs">52.00000</text>
<path d="M2436,477.0 H2553 a3,3 0 0 1 3,3 V507.0 a3,3 0 0 1 -3,3 H2436 Z" fill="#ffffff"/>
<text x="2452.5" y="502.1" font-size="23.4" fill="#101014" stroke="#101014" stroke-width="0.6" textLength="93.0" lengthAdjust="spacingAndGlyphs">98.08874</text>
<path d="M2436,583.1 H2553 a3,3 0 0 1 3,3 V613.1 a3,3 0 0 1 -3,3 H2436 Z" fill="#ffffff"/>
<text x="2452.5" y="608.3" font-size="23.4" fill="#101014" stroke="#101014" stroke-width="0.6" textLength="93.0" lengthAdjust="spacingAndGlyphs">92.14839</text>
<path d="M2436,691.4 H2553 a3,3 0 0 1 3,3 V721.4 a3,3 0 0 1 -3,3 H2436 Z" fill="#ffffff"/>
<text x="2452.5" y="716.5" font-size="23.4" fill="#101014" stroke="#101014" stroke-width="0.6" textLength="93.0" lengthAdjust="spacingAndGlyphs">86.11346</text>
<path d="M2436,973.1 H2553 a3,3 0 0 1 3,3 V1003.1 a3,3 0 0 1 -3,3 H2436 Z" fill="#ffffff"/>
<text x="2452.5" y="998.3" font-size="23.4" fill="#101014" stroke="#101014" stroke-width="0.6" textLength="93.0" lengthAdjust="spacingAndGlyphs">70.37946</text>
<path d="M2436,1085.1 H2553 a3,3 0 0 1 3,3 V1115.1 a3,3 0 0 1 -3,3 H2436 Z" fill="#ffffff"/>
<text x="2452.5" y="1110.3" font-size="23.4" fill="#101014" stroke="#101014" stroke-width="0.6" textLength="93.0" lengthAdjust="spacingAndGlyphs">64.14086</text>
<path d="M2436,1199.8 H2553 a3,3 0 0 1 3,3 V1229.8 a3,3 0 0 1 -3,3 H2436 Z" fill="#ffffff"/>
<text x="2452.5" y="1224.9" font-size="23.4" fill="#101014" stroke="#101014" stroke-width="0.6" textLength="93.0" lengthAdjust="spacingAndGlyphs">57.72957</text>
<path d="M2436,814.6 H2553 a3,3 0 0 1 3,3 V844.6 a3,3 0 0 1 -3,3 H2436 Z" fill="#4caf50"/>
<text x="2452.5" y="839.7" font-size="23.4" fill="#ffffff" stroke="#ffffff" stroke-width="0.6" textLength="93.0" lengthAdjust="spacingAndGlyphs">79.21431</text>
<path d="M2436,875.0 H2553 a3,3 0 0 1 3,3 V931.6 a3,3 0 0 1 -3,3 H2436 Z" fill="#36a846"/>
<text x="2452.5" y="899.6" font-size="23.4" fill="#ffffff" stroke="#ffffff" stroke-width="0.6" textLength="93.0" lengthAdjust="spacingAndGlyphs">75.86730</text>
<text x="2452.5" y="926.6" font-size="23.4" fill="#d2ecd5" stroke="#d2ecd5" stroke-width="0.6" textLength="56.5" lengthAdjust="spacingAndGlyphs">09:58</text>
<path d="M2434,875 H2339 a3,3 0 0 0 -3,3 V904.4 a3,3 0 0 0 3,3 H2434 Z" fill="#36a846"/>
<text x="2344.6" y="899.3" font-size="23" fill="#ffffff" stroke="#ffffff" stroke-width="0.6" textLength="81.5" lengthAdjust="spacingAndGlyphs">XAGUSD</text>
<rect x="2434.2" y="0" width="2" height="1404" fill="#7d7d7d"/>
<rect x="0" y="1350" width="2560" height="2" fill="#7d7d7d"/>
<defs><clipPath id="tc"><rect x="0" y="1352" width="2434.2" height="52"/></clipPath></defs>
<g clip-path="url(#tc)">
<text x="14.7" y="1386.2" font-size="23.4" fill="#d5d5d8" stroke="#d5d5d8" stroke-width="0.6" textLength="22.8" lengthAdjust="spacingAndGlyphs" text-anchor="middle">20</text>
<text x="119.9" y="1386.2" font-size="23.4" fill="#d5d5d8" stroke="#d5d5d8" stroke-width="0.6" textLength="22.8" lengthAdjust="spacingAndGlyphs" text-anchor="middle">21</text>
<text x="225.0" y="1386.2" font-size="23.4" fill="#d5d5d8" stroke="#d5d5d8" stroke-width="0.6" textLength="22.8" lengthAdjust="spacingAndGlyphs" text-anchor="middle">22</text>
<text x="330.2" y="1386.2" font-size="23.4" fill="#d5d5d8" stroke="#d5d5d8" stroke-width="0.6" textLength="22.8" lengthAdjust="spacingAndGlyphs" text-anchor="middle">23</text>
<text x="435.3" y="1386.2" font-size="23.4" fill="#d5d5d8" stroke="#d5d5d8" stroke-width="0.6" textLength="22.8" lengthAdjust="spacingAndGlyphs" text-anchor="middle">26</text>
<text x="540.5" y="1386.2" font-size="23.4" fill="#d5d5d8" stroke="#d5d5d8" stroke-width="0.6" textLength="22.8" lengthAdjust="spacingAndGlyphs" text-anchor="middle">27</text>
<text x="645.7" y="1386.2" font-size="23.4" fill="#d5d5d8" stroke="#d5d5d8" stroke-width="0.6" textLength="22.8" lengthAdjust="spacingAndGlyphs" text-anchor="middle">28</text>
<text x="750.8" y="1386.2" font-size="23.4" fill="#d5d5d8" stroke="#d5d5d8" stroke-width="0.6" textLength="22.8" lengthAdjust="spacingAndGlyphs" text-anchor="middle">29</text>
<text x="1066.3" y="1386.2" font-size="23.4" fill="#d5d5d8" stroke="#d5d5d8" stroke-width="0.6" textLength="10.4" lengthAdjust="spacingAndGlyphs" text-anchor="middle">3</text>
<text x="1171.5" y="1386.2" font-size="23.4" fill="#d5d5d8" stroke="#d5d5d8" stroke-width="0.6" textLength="10.4" lengthAdjust="spacingAndGlyphs" text-anchor="middle">4</text>
<text x="1276.6" y="1386.2" font-size="23.4" fill="#d5d5d8" stroke="#d5d5d8" stroke-width="0.6" textLength="10.4" lengthAdjust="spacingAndGlyphs" text-anchor="middle">5</text>
<text x="1381.8" y="1386.2" font-size="23.4" fill="#d5d5d8" stroke="#d5d5d8" stroke-width="0.6" textLength="10.4" lengthAdjust="spacingAndGlyphs" text-anchor="middle">6</text>
<text x="1487.0" y="1386.2" font-size="23.4" fill="#d5d5d8" stroke="#d5d5d8" stroke-width="0.6" textLength="10.4" lengthAdjust="spacingAndGlyphs" text-anchor="middle">9</text>
<text x="1592.1" y="1386.2" font-size="23.4" fill="#d5d5d8" stroke="#d5d5d8" stroke-width="0.6" textLength="22.8" lengthAdjust="spacingAndGlyphs" text-anchor="middle">10</text>
<text x="1697.3" y="1386.2" font-size="23.4" fill="#d5d5d8" stroke="#d5d5d8" stroke-width="0.6" textLength="22.8" lengthAdjust="spacingAndGlyphs" text-anchor="middle">11</text>
<text x="1802.5" y="1386.2" font-size="23.4" fill="#d5d5d8" stroke="#d5d5d8" stroke-width="0.6" textLength="22.8" lengthAdjust="spacingAndGlyphs" text-anchor="middle">12</text>
<text x="1907.6" y="1386.2" font-size="23.4" fill="#d5d5d8" stroke="#d5d5d8" stroke-width="0.6" textLength="22.8" lengthAdjust="spacingAndGlyphs" text-anchor="middle">13</text>
<text x="2012.8" y="1386.2" font-size="23.4" fill="#d5d5d8" stroke="#d5d5d8" stroke-width="0.6" textLength="22.8" lengthAdjust="spacingAndGlyphs" text-anchor="middle">16</text>
<text x="2117.9" y="1386.2" font-size="23.4" fill="#d5d5d8" stroke="#d5d5d8" stroke-width="0.6" textLength="22.8" lengthAdjust="spacingAndGlyphs" text-anchor="middle">17</text>
<text x="2223.1" y="1386.2" font-size="23.4" fill="#d5d5d8" stroke="#d5d5d8" stroke-width="0.6" textLength="22.8" lengthAdjust="spacingAndGlyphs" text-anchor="middle">18</text>
<text x="2328.3" y="1386.2" font-size="23.4" fill="#d5d5d8" stroke="#d5d5d8" stroke-width="0.6" textLength="22.8" lengthAdjust="spacingAndGlyphs" text-anchor="middle">19</text>
<text x="2433.4" y="1386.2" font-size="23.4" fill="#d5d5d8" stroke="#d5d5d8" stroke-width="0.6" textLength="22.8" lengthAdjust="spacingAndGlyphs" text-anchor="middle">20</text>
<text x="943.9" y="1386.2" font-size="23.4" fill="#d5d5d8" textLength="38.0" lengthAdjust="spacingAndGlyphs" font-weight="bold" text-anchor="middle">Feb</text>
</g>
<g fill="none" stroke="#d0d0d0" stroke-width="1.9" stroke-linejoin="round"><polygon points="2493.2,1377.9 2499.5,1366.2 2514.2,1366.2 2520.6,1377.9 2514.2,1389.6 2499.5,1389.6"/><circle cx="2506.8" cy="1378" r="4"/></g>
<rect x="2443" y="4.6" width="140" height="48.8" rx="8" fill="#0f0f0f" stroke="#4a4a4a" stroke-width="2"/>
<text x="2450.5" y="38.0" font-size="24.4" fill="#d5d5d8" stroke="#d5d5d8" stroke-width="0.6" textLength="39.5" lengthAdjust="spacingAndGlyphs">USD</text>
<polyline points="2549.5,26.3 2555.8,32 2562,26.3" fill="none" stroke="#d5d5d8" stroke-width="2.2"/>
<circle cx="33.8" cy="27.1" r="17.5" fill="#acaabc"/>
<g fill="#ffffff"><polygon points="30.8,18.9 36.8,18.9 40.4,24.9 27,24.9"/><polygon points="24.1,27 29.9,27 33.4,32.9 20.3,32.9"/><polygon points="37.6,27 43.3,27 47.2,32.9 34.2,32.9"/></g>
<text x="59.4" y="37.9" font-size="29.6" fill="#d5d5d8" stroke="#d5d5d8" stroke-width="0.6" textLength="75.0" lengthAdjust="spacingAndGlyphs">Silver</text>
<text x="148.2" y="37.9" font-size="29.6" fill="#d5d5d8" stroke="#d5d5d8" stroke-width="0.6" textLength="9.6" lengthAdjust="spacingAndGlyphs">/</text>
<text x="171.9" y="37.9" font-size="29.6" fill="#d5d5d8" stroke="#d5d5d8" stroke-width="0.6" textLength="53.2" lengthAdjust="spacingAndGlyphs">U.S.</text>
<text x="238.3" y="37.9" font-size="29.6" fill="#d5d5d8" stroke="#d5d5d8" stroke-width="0.6" textLength="79.7" lengthAdjust="spacingAndGlyphs">Dollar</text>
<text x="332.0" y="40.6" font-size="32" fill="#d5d5d8" font-weight="bold" text-anchor="middle">·</text>
<text x="343.0" y="37.9" font-size="29.6" fill="#d5d5d8" stroke="#d5d5d8" stroke-width="0.6" textLength="31.2" lengthAdjust="spacingAndGlyphs">4h</text>
<text x="387.6" y="40.6" font-size="32" fill="#d5d5d8" font-weight="bold" text-anchor="middle">·</text>
<text x="400.0" y="37.9" font-size="29.6" fill="#d5d5d8" stroke="#d5d5d8" stroke-width="0.6" textLength="93.8" lengthAdjust="spacingAndGlyphs">OANDA</text>
<defs><clipPath id="pill"><rect x="509.9" y="9.7" width="77" height="34.9" rx="17.45"/></clipPath></defs>
<g clip-path="url(#pill)"><rect x="509" y="9" width="39.4" height="37" fill="#061a17"/><rect x="548.4" y="9" width="40" height="37" fill="#230511"/></g>
<circle cx="531" cy="27.1" r="8.4" fill="#089981" stroke="#020d0b" stroke-width="1"/>
<g fill="none" stroke="#e2256b" stroke-width="2.6" stroke-linecap="butt"><path d="M557.8,25.4 C558.8,22.6 561,21.5 563.2,22.1 C565.8,22.8 568.2,24.9 570.4,24.5 C572,24.2 573.2,22.9 573.7,21.8"/><path d="M557.8,33.1 C558.8,30.3 561,29.2 563.2,29.8 C565.8,30.5 568.2,32.6 570.4,32.2 C572,31.9 573.2,30.6 573.7,29.5"/></g>
<text x="603.4" y="35.8" font-size="25.8" fill="#d5d5d8" stroke="#d5d5d8" stroke-width="0.6" textLength="17.5" lengthAdjust="spacingAndGlyphs">O</text>
<text x="622.8" y="35.8" font-size="25.8" fill="#6ade5c" stroke="#6ade5c" stroke-width="0.6" textLength="99.4" lengthAdjust="spacingAndGlyphs">73.46575</text>
<text x="735.6" y="35.8" font-size="25.8" fill="#d5d5d8" stroke="#d5d5d8" stroke-width="0.6" textLength="14.5" lengthAdjust="spacingAndGlyphs">H</text>
<text x="753.6" y="35.8" font-size="25.8" fill="#6ade5c" stroke="#6ade5c" stroke-width="0.6" textLength="100.6" lengthAdjust="spacingAndGlyphs">76.14990</text>
<text x="867.6" y="35.8" font-size="25.8" fill="#d5d5d8" stroke="#d5d5d8" stroke-width="0.6" textLength="11.0" lengthAdjust="spacingAndGlyphs">L</text>
<text x="880.6" y="35.8" font-size="25.8" fill="#6ade5c" stroke="#6ade5c" stroke-width="0.6" textLength="100.4" lengthAdjust="spacingAndGlyphs">73.28145</text>
<text x="994.4" y="35.8" font-size="25.8" fill="#d5d5d8" stroke="#d5d5d8" stroke-width="0.6" textLength="13.5" lengthAdjust="spacingAndGlyphs">C</text>
<text x="1009.4" y="35.8" font-size="25.8" fill="#6ade5c" stroke="#6ade5c" stroke-width="0.6" textLength="100.6" lengthAdjust="spacingAndGlyphs">75.86730</text>
<text x="1125.4" y="35.8" font-size="25.8" fill="#6ade5c" stroke="#6ade5c" stroke-width="0.6" textLength="201.6" lengthAdjust="spacingAndGlyphs">+2.39970 (+3.27%)</text>
<text x="1340.2" y="35.8" font-size="25.8" fill="#6ade5c" stroke="#6ade5c" stroke-width="0.6" textLength="204.0" lengthAdjust="spacingAndGlyphs">+2.33140 (+3.17%)</text>
<rect x="15.6" y="59" width="141.8" height="63.6" rx="9" fill="#0f0f0f" stroke="#f23645" stroke-width="2.2"/>
<text x="37.0" y="85.9" font-size="23.8" fill="#f23645" textLength="88.0" lengthAdjust="spacingAndGlyphs" font-weight="bold">75.8360</text>
<text x="126.3" y="81.2" font-size="17" fill="#f23645" textLength="10.0" lengthAdjust="spacingAndGlyphs" font-weight="bold">0</text>
<text x="63.8" y="111.6" font-size="22.7" fill="#f23645" stroke="#f23645" stroke-width="0.6" textLength="44.8" lengthAdjust="spacingAndGlyphs">SELL</text>
<text x="174.2" y="97.7" font-size="18.2" fill="#d5d5d8" stroke="#d5d5d8" stroke-width="0.6" textLength="46.8" lengthAdjust="spacingAndGlyphs">626.0</text>
<rect x="237.4" y="59" width="142.4" height="63.6" rx="9" fill="#0f0f0f" stroke="#2962ff" stroke-width="2.2"/>
<text x="259.7" y="85.9" font-size="23.8" fill="#2962ff" textLength="88.0" lengthAdjust="spacingAndGlyphs" font-weight="bold">75.8986</text>
<text x="349.2" y="81.2" font-size="17" fill="#2962ff" textLength="9.6" lengthAdjust="spacingAndGlyphs" font-weight="bold">0</text>
<text x="289.8" y="111.6" font-size="22.7" fill="#2962ff" stroke="#2962ff" stroke-width="0.6" textLength="37.2" lengthAdjust="spacingAndGlyphs">BUY</text>
<rect x="15.6" y="138.4" width="59.8" height="38.4" rx="5" fill="#000" stroke="#3c3c3c" stroke-width="2"/>
<polyline points="27.6,154.6 35,161.4 42.4,154.6" fill="none" stroke="#d5d5d8" stroke-width="2.4"/>
<text x="54.0" y="164.8" font-size="23.8" fill="#d5d5d8" stroke="#d5d5d8" stroke-width="0.6" textLength="11.0" lengthAdjust="spacingAndGlyphs">3</text>
<circle cx="124.6" cy="157.4" r="17.2" fill="#100524"/>
<g fill="none" stroke="#6621ff" stroke-width="2.9"><path d="M115.9,154.1 A9.3,9.3 0 0 1 133.2,153.9"/><path d="M133.3,160.7 A9.3,9.3 0 0 1 116,160.9"/></g>
<g fill="#6621ff"><polygon points="128.6,154.9 138.2,152.9 134.8,158.7"/><polygon points="111,161.3 120.6,159.3 114.4,155.9"/></g>
<g stroke="#171717" stroke-width="6" stroke-linejoin="miter" fill="#dadada" paint-order="stroke">
<path d="M22.2,1294.2 H45.1 V1322.5 H33.6 V1304.7 H22.2 Z"/>
<circle cx="54.9" cy="1299.6" r="5.4"/>
<path d="M65.7,1294.2 H79.6 L69.6,1322.5 H55.8 Z"/>
<text x="93.8" y="1322.5" font-size="41" font-weight="bold" textLength="232.6" lengthAdjust="spacingAndGlyphs" stroke-linejoin="round" style="paint-order:stroke">TradingView</text>
</g>
</svg></body></html>
